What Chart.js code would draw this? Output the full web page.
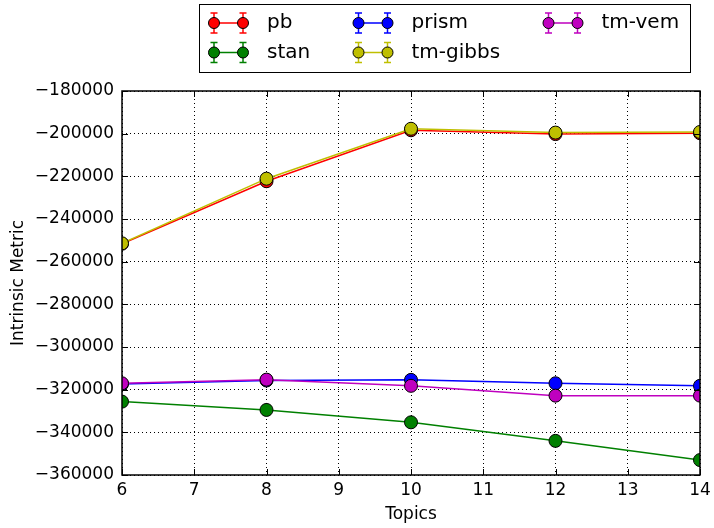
<!DOCTYPE html>
<html>
<head>
<meta charset="utf-8">
<script src="https://cdn.jsdelivr.net/npm/chart.js@4/dist/chart.umd.min.js"></script>
<style>
html,body{margin:0;padding:0;background:#fff;}
#wrap{width:714px;height:528px;}
</style>
</head>
<body>
<div id="wrap"><canvas id="c" width="714" height="528"></canvas></div>
<script>
const topics = [6, 8, 10, 12, 14];
const pb = [-251600, -222300, -198400, -200200, -199800];
const stan = [-325600, -329500, -335300, -344000, -353000];
const prism = [-317400, -315700, -315400, -317000, -318200];
const tmGibbs = [-251400, -221100, -197700, -199500, -199200];
const tmVem = [-317000, -315300, -318200, -322800, -322800];
const yTicks = [-360000, -340000, -320000, -300000, -280000, -260000, -240000, -220000, -200000, -180000];
const xTicks = [6, 7, 8, 9, 10, 11, 12, 13, 14];

const FONT = "'DejaVu Sans', sans-serif";
const seriesDefs = [
  {label: 'pb', data: pb, color: '#ff0000'},
  {label: 'stan', data: stan, color: '#008000'},
  {label: 'prism', data: prism, color: '#0000ff'},
  {label: 'tm-gibbs', data: tmGibbs, color: '#bfbf00'},
  {label: 'tm-vem', data: tmVem, color: '#bf00bf'}
];

const datasets = seriesDefs.map((s, i) => ({
  label: s.label,
  data: topics.map((t, j) => ({x: t, y: s.data[j]})),
  borderColor: s.color,
  backgroundColor: s.color,
  pointBackgroundColor: s.color,
  pointBorderColor: '#000',
  pointBorderWidth: 1,
  pointRadius: 6.5,
  borderWidth: 1.5,
  tension: 0,
  clip: 0,
  order: seriesDefs.length - i
}));

const fmt = v => (v < 0 ? '\u2212' : '') + Math.abs(v);

const framePlugin = {
  id: 'frame',
  afterDraw(chart) {
    const ctx = chart.ctx;
    const a = chart.chartArea;
    const xs = chart.scales.x, ys = chart.scales.y;
    ctx.save();
    ctx.strokeStyle = '#000';
    ctx.lineWidth = 1;
    const L = 6;
    ctx.beginPath();
    xTicks.forEach(v => {
      const px = Math.round(xs.getPixelForValue(v)) + 0.5;
      ctx.moveTo(px, a.bottom); ctx.lineTo(px, a.bottom - L);
      ctx.moveTo(px, a.top); ctx.lineTo(px, a.top + L);
    });
    yTicks.forEach(v => {
      const py = Math.round(ys.getPixelForValue(v)) + 0.5;
      ctx.moveTo(a.left, py); ctx.lineTo(a.left + L, py);
      ctx.moveTo(a.right, py); ctx.lineTo(a.right - L, py);
    });
    ctx.stroke();
    ctx.lineWidth = 1.5;
    ctx.strokeRect(a.left, a.top, a.right - a.left, a.bottom - a.top);

    // legend
    const bx = 199.5, by = 4.5, bw = 491, bh = 68;
    ctx.fillStyle = '#fff';
    ctx.fillRect(bx, by, bw, bh);
    ctx.lineWidth = 1;
    ctx.strokeRect(bx, by, bw, bh);
    const cols = [214, 358.5, 548.5];
    const rows = [23, 52.5];
    ctx.font = '20px ' + FONT;
    ctx.textBaseline = 'middle';
    ctx.textAlign = 'left';
    seriesDefs.forEach((s, i) => {
      const col = Math.floor(i / 2), row = i % 2;
      const x0 = cols[col], x1 = x0 + 29, y = rows[row];
      ctx.strokeStyle = s.color;
      ctx.lineWidth = 1.5;
      ctx.beginPath();
      ctx.moveTo(x0, y); ctx.lineTo(x1, y);
      [x0, x1].forEach(x => {
        ctx.moveTo(x, y - 10); ctx.lineTo(x, y + 10);
        ctx.moveTo(x - 3.5, y - 10); ctx.lineTo(x + 3.5, y - 10);
        ctx.moveTo(x - 3.5, y + 10); ctx.lineTo(x + 3.5, y + 10);
      });
      ctx.stroke();
      [x0, x1].forEach(x => {
        ctx.beginPath();
        ctx.arc(x, y, 5.5, 0, Math.PI * 2);
        ctx.fillStyle = s.color;
        ctx.fill();
        ctx.strokeStyle = '#000';
        ctx.lineWidth = 1;
        ctx.stroke();
      });
      ctx.fillStyle = '#000';
      ctx.fillText(s.label, x0 + 53, y);
    });
    ctx.restore();
  }
};

new Chart(document.getElementById('c'), {
  type: 'line',
  data: {datasets},
  options: {
    responsive: false,
    animation: false,
    events: [],
    layout: {padding: {top: 91, right: 14, left: 0, bottom: 0}},
    plugins: {legend: {display: false}, tooltip: {enabled: false}},
    scales: {
      x: {
        type: 'linear',
        min: 6, max: 14,
        afterFit: s => { s.height = 53; s.paddingLeft = 0; s.paddingRight = 0; },
        afterBuildTicks: s => { s.ticks = xTicks.map(v => ({value: v})); },
        ticks: {color: '#000', font: {family: FONT, size: 17}, padding: 5,
                callback: v => String(v), maxRotation: 0},
        grid: {color: '#000', lineWidth: 1, tickLength: 0, drawTicks: false},
        border: {display: false, dash: [1, 3]},
        title: {display: true, text: 'Topics', color: '#000', font: {family: FONT, size: 17}, padding: {top: 0, bottom: 3}}
      },
      y: {
        type: 'linear',
        min: -360000, max: -180000,
        afterFit: s => { s.width = 122; s.paddingTop = 0; s.paddingBottom = 0; },
        afterBuildTicks: s => { s.ticks = yTicks.map(v => ({value: v})); },
        ticks: {color: '#000', font: {family: FONT, size: 17}, padding: 8, callback: v => fmt(v)},
        grid: {color: '#000', lineWidth: 1, tickLength: 0, drawTicks: false},
        border: {display: false, dash: [1, 3]},
        title: {display: true, text: 'Intrinsic Metric', color: '#000', font: {family: FONT, size: 17}, padding: {top: 8, bottom: 0}}
      }
    }
  },
  plugins: [framePlugin]
});
</script>
</body>
</html>
